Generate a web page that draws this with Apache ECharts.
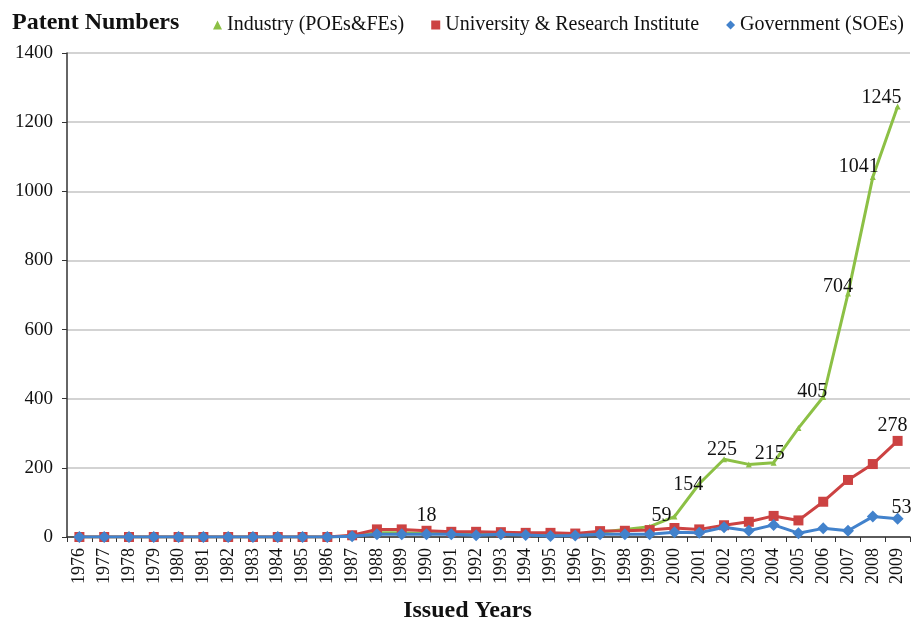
<!DOCTYPE html>
<html>
<head>
<meta charset="utf-8">
<script src="https://cdn.jsdelivr.net/npm/echarts@6/dist/echarts.min.js"></script>
<style>
  html, body { margin: 0; padding: 0; background: #fff; }
  #main { width: 920px; height: 622px; }
</style>
</head>
<body>
<div id="main"></div>
<script>
// issued years
var years = ['1976','1977','1978','1979','1980','1981','1982','1983','1984','1985','1986','1987',
  '1988','1989','1990','1991','1992','1993','1994','1995','1996','1997','1998','1999',
  '2000','2001','2002','2003','2004','2005','2006','2007','2008','2009'];

var industry = [0,0,0,0,0,0,0,0,0,0,0,3,12,12,10,10,8,10,8,8,8,14,22,30,59,154,225,210,215,315,405,704,1041,1245];
var university = [0,0,0,0,0,0,0,0,0,0,0,5,22,22,18,15,15,14,12,12,10,17,18,20,26,22,34,44,61,48,102,165,211,278];
var government = [0,0,0,0,0,0,0,0,0,0,0,2,8,8,8,8,5,8,6,3,4,8,8,8,14,12,28,18,35,11,25,18,59,53];

var yTicks = [0, 200, 400, 600, 800, 1000, 1200, 1400];

// which points carry a number, and the nudge of that number from its point
var industryLabels = { '2000': [-13, 12], '2001': [-11, 14], '2002': [-2, 4], '2004': [-4, 4],
  '2006': [-11, 8], '2007': [-10, 6], '2008': [-14, 3], '2009': [-16, 4] };
var universityLabels = { '1990': [0, 0], '2009': [-5, 0] };
var governmentLabels = { '2009': [4, 5] };

var serif = '"Liberation Serif", "DejaVu Serif", serif';

function withLabels(values, labels) {
  return values.map(function (v, i) {
    var off = labels[years[i]];
    if (!off) return v;
    return {
      value: v,
      label: {
        show: true,
        position: 'top',
        distance: 0,
        offset: off,
        color: '#111',
        fontFamily: serif,
        fontSize: 20
      }
    };
  });
}

var chart = echarts.init(document.getElementById('main'));
var option = {
  backgroundColor: '#fff',
  animation: false,
  title: {
    text: 'Patent Numbers',
    left: 7,
    top: 6,
    textStyle: { fontFamily: serif, fontSize: 24, fontWeight: 'bold', color: '#111' }
  },
  legend: {
    top: 10,
    left: 208,
    itemWidth: 9,
    itemHeight: 9,
    itemGap: 27,
    textStyle: { fontFamily: serif, fontSize: 20, color: '#111' },
    data: [
      { name: 'Industry (POEs&FEs)', icon: 'triangle' },
      { name: 'University & Research Institute', icon: 'rect' },
      { name: 'Government (SOEs)', icon: 'diamond' }
    ]
  },
  grid: { left: 67, right: 10, top: 53, bottom: 85, outerBoundsMode: 'none', containLabel: false },
  xAxis: {
    type: 'category',
    data: years,
    name: 'Issued Years',
    nameLocation: 'middle',
    nameGap: 62,
    nameTextStyle: { fontFamily: serif, fontSize: 24, fontWeight: 'bold', color: '#111', padding: [0, 42, 0, 0] },
    axisLine: { lineStyle: { color: '#333', width: 1.5 } },
    axisTick: { show: true, inside: false, length: 5, lineStyle: { color: '#333' } },
    axisLabel: { rotate: 90, interval: 0, fontFamily: serif, fontSize: 18, color: '#111', margin: 11 }
  },
  yAxis: {
    type: 'value',
    min: 0,
    max: 1400,
    interval: 200,
    axisLine: { show: true, lineStyle: { color: '#333', width: 1.5 } },
    axisTick: { show: true, length: 5, lineStyle: { color: '#333' } },
    axisLabel: {
      fontFamily: serif, fontSize: 19, color: '#111', margin: 14,
      formatter: function (v) { return yTicks.indexOf(v) >= 0 ? String(v) : ''; }
    },
    splitLine: { lineStyle: { color: '#c4c4c4', width: 1.5 } }
  },
  series: [
    {
      name: 'Industry (POEs&FEs)',
      type: 'line',
      data: withLabels(industry, industryLabels),
      symbol: 'triangle',
      symbolSize: 6,
      color: '#8cc045',
      lineStyle: { width: 3, color: '#8cc045' },
      itemStyle: { color: '#8cc045' },
      z: 2
    },
    {
      name: 'University & Research Institute',
      type: 'line',
      data: withLabels(university, universityLabels),
      symbol: 'rect',
      symbolSize: 10,
      color: '#cc4242',
      lineStyle: { width: 3, color: '#cc4242' },
      itemStyle: { color: '#cc4242' },
      z: 3
    },
    {
      name: 'Government (SOEs)',
      type: 'line',
      data: withLabels(government, governmentLabels),
      symbol: 'diamond',
      symbolSize: 12,
      color: '#4282cc',
      lineStyle: { width: 3, color: '#4282cc' },
      itemStyle: { color: '#4282cc' },
      z: 4
    }
  ]
};
chart.setOption(option);
</script>
</body>
</html>
